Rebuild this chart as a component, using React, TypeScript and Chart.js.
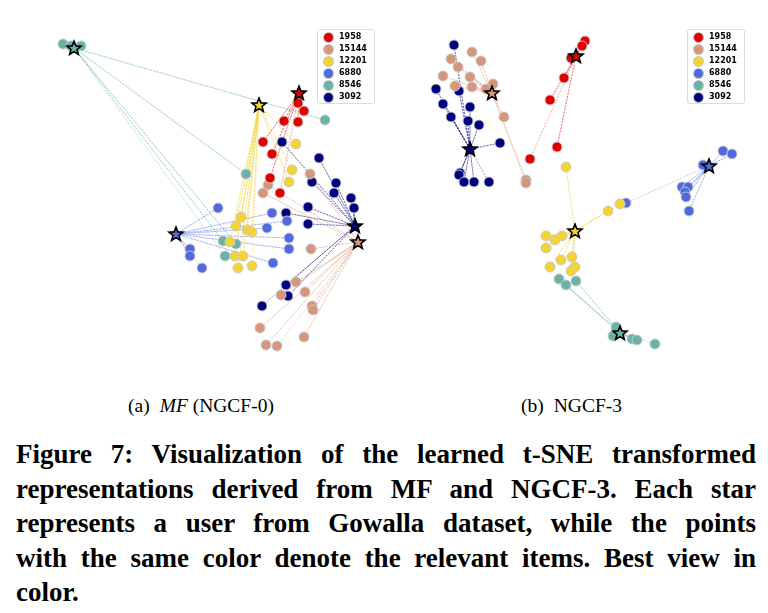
import React, { useEffect, useRef } from "react";
import { Chart, registerables } from "chart.js";
Chart.register(...registerables);

type Pt = [number, number];

const groupLabels = ["1958", "15144", "12201", "6880", "8546", "3092"];
const groupColors = ["#e00000", "#d6967b", "#f2d432", "#5069e0", "#68b2a8", "#000080"];
const lineColors = [
  "rgba(224,0,0,0.5)",
  "rgba(214,150,123,0.55)",
  "rgba(242,212,50,0.65)",
  "rgba(80,105,224,0.5)",
  "rgba(104,178,168,0.6)",
  "rgba(0,0,128,0.55)",
];

// ---------- Panel (a) MF (NGCF-0) ----------
const mfUsers: Pt[] = [
  [299, 93], [358, 242], [259, 105], [176, 234], [74, 48], [355, 226],
];
const mfItems1958: Pt[] = [
  [298, 103], [304, 111], [284, 121], [298, 122], [263, 142], [272, 154], [270, 178], [280, 193],
];
const mfItems15144: Pt[] = [
  [310, 174], [268, 185], [263, 193], [311, 249], [296, 282], [305, 292], [281, 295],
  [312, 306], [313, 310], [260, 328], [304, 337], [266, 345], [277, 346],
];
const mfItems12201: Pt[] = [
  [296, 144], [292, 170], [289, 182], [241, 217], [236, 226], [247, 230], [252, 232],
  [230, 242], [235, 256], [243, 256], [238, 268], [252, 266],
];
const mfItems6880: Pt[] = [
  [218, 208], [272, 213], [287, 221], [267, 228], [289, 238], [289, 249], [273, 263],
  [190, 249], [190, 256], [202, 268],
];
const mfItems8546: Pt[] = [
  [63, 44], [71, 46], [81, 46], [325, 120], [246, 174], [223, 241], [236, 244], [225, 256],
];
const mfItems3092: Pt[] = [
  [282, 142], [319, 158], [312, 182], [336, 183], [334, 193], [351, 198], [354, 208],
  [308, 207], [286, 213], [308, 224], [286, 285], [288, 296], [262, 306],
];

// ---------- Panel (b) NGCF-3 ----------
const ngcfUsers: Pt[] = [
  [192, 56], [108, 93], [191, 231], [325, 166], [236, 333], [86, 149],
];
const ngcfItems1958: Pt[] = [
  [201, 41], [198, 46], [187, 58], [180, 78], [166, 100], [173, 147], [146, 159],
];
const ngcfItems15144: Pt[] = [
  [88, 52], [97, 61], [67, 59], [74, 67], [59, 76], [86, 77], [71, 86], [88, 87],
  [102, 89], [109, 84], [120, 117], [142, 180], [142, 183],
];
const ngcfItems12201: Pt[] = [
  [182, 167], [236, 204], [224, 211], [162, 236], [171, 240], [178, 236], [162, 248],
  [177, 260], [188, 257], [166, 267], [187, 271], [191, 267],
];
const ngcfItems6880: Pt[] = [
  [339, 151], [348, 154], [319, 165], [298, 187], [304, 187], [301, 192], [302, 197],
  [305, 211], [242, 203],
];
const ngcfItems8546: Pt[] = [
  [175, 279], [182, 285], [192, 281], [232, 327], [229, 336], [248, 339], [253, 340], [271, 344],
];
const ngcfItems3092: Pt[] = [
  [70, 45], [52, 89], [59, 104], [67, 117], [75, 91], [86, 107], [84, 121], [95, 125],
  [116, 143], [76, 173], [75, 175], [80, 182], [90, 182], [105, 182],
];

const mfItems = [mfItems1958, mfItems15144, mfItems12201, mfItems6880, mfItems8546, mfItems3092];
const ngcfItems = [ngcfItems1958, ngcfItems15144, ngcfItems12201, ngcfItems6880, ngcfItems8546, ngcfItems3092];

const captionLines = [
  "Figure 7: Visualization of the learned t-SNE transformed",
  "representations derived from MF and NGCF-3. Each star",
  "represents a user from Gowalla dataset, while the points",
  "with the same color denote the relevant items. Best view in",
  "color.",
];

const CAPTION_FONT = "bold 27px 'Liberation Serif'";
const CAPTION_WIDTH = 740;

function captionScale(): number {
  const c = document.createElement("canvas");
  const ctx = c.getContext("2d")!;
  ctx.font = CAPTION_FONT;
  let maxW = 0;
  captionLines.forEach((t) => {
    maxW = Math.max(maxW, ctx.measureText(t).width);
  });
  return Math.min(1, CAPTION_WIDTH / (maxW + 2));
}

function makeStar(color: string): HTMLCanvasElement {
  const c = document.createElement("canvas");
  const s = 20;
  c.width = s;
  c.height = s;
  const ctx = c.getContext("2d")!;
  const cx = s / 2, cy = s / 2 + 0.5, ro = 7.4, ri = 3.2;
  ctx.beginPath();
  for (let i = 0; i < 10; i++) {
    const r = i % 2 === 0 ? ro : ri;
    const a = -Math.PI / 2 + (i * Math.PI) / 5;
    const x = cx + r * Math.cos(a), y = cy + r * Math.sin(a);
    if (i === 0) ctx.moveTo(x, y); else ctx.lineTo(x, y);
  }
  ctx.closePath();
  ctx.fillStyle = color;
  ctx.fill();
  ctx.lineWidth = 1.6;
  ctx.strokeStyle = "#000";
  ctx.lineJoin = "miter";
  ctx.stroke();
  return c;
}

function buildDatasets(users: Pt[], items: Pt[][]) {
  const ds: any[] = [];
  users.forEach((u, g) => {
    const lineData: any[] = [];
    items[g].forEach((p) => {
      lineData.push({ x: u[0], y: u[1] });
      lineData.push({ x: p[0], y: p[1] });
    });
    ds.push({
      label: groupLabels[g] + " links",
      data: lineData,
      showLine: true,
      borderColor: lineColors[g],
      borderWidth: 0.7,
      borderDash: [2, 1.2],
      pointRadius: 0,
      tension: 0,
      order: 3,
      clip: false,
    });
  });
  items.forEach((arr, g) => {
    ds.push({
      label: groupLabels[g],
      data: arr.map((p) => ({ x: p[0], y: p[1] })),
      backgroundColor: groupColors[g],
      borderColor: "rgba(200,200,200,0.95)",
      borderWidth: 1,
      pointRadius: 5,
      order: 2,
      clip: false,
    });
  });
  users.forEach((u, g) => {
    ds.push({
      label: groupLabels[g] + " user",
      data: [{ x: u[0], y: u[1] }],
      pointStyle: makeStar(groupColors[g]),
      pointRadius: 8,
      order: 1,
      clip: false,
    });
  });
  return ds;
}

function Panel({ users, items }: { users: Pt[]; items: Pt[][] }) {
  const ref = useRef<HTMLCanvasElement | null>(null);
  useEffect(() => {
    if (!ref.current) return;
    const chart = new Chart(ref.current, {
      type: "scatter",
      data: { datasets: buildDatasets(users, items) },
      options: {
        responsive: false,
        animation: false,
        devicePixelRatio: 1,
        layout: { padding: 0, autoPadding: false },
        plugins: { legend: { display: false }, tooltip: { enabled: false } },
        scales: {
          x: { type: "linear", min: 0, max: 384, display: false },
          y: { type: "linear", min: 0, max: 385, reverse: true, display: false },
        },
      } as any,
    });
    return () => chart.destroy();
  }, []);
  return <canvas ref={ref} width={384} height={385} style={{ display: "block" }} />;
}

function Legend({ left, top }: { left: number; top: number }) {
  return (
    <div
      style={{
        position: "absolute",
        left,
        top,
        width: 58,
        height: 75,
        border: "1px solid #dcdcdc",
        borderRadius: 3,
        background: "#fff",
        boxSizing: "border-box",
      }}
    >
      {groupLabels.map((l, i) => (
        <div
          key={l}
          style={{
            position: "absolute",
            left: 5,
            top: 1 + i * 12,
            height: 12,
            display: "flex",
            alignItems: "center",
          }}
        >
          <span
            style={{
              display: "inline-block",
              width: 11,
              height: 11,
              borderRadius: "50%",
              background: groupColors[i],
              border: "1px solid rgba(200,200,200,0.95)",
              boxSizing: "border-box",
            }}
          />
          <span
            style={{
              marginLeft: 5,
              font: "bold 8px 'DejaVu Sans'",
              color: "#000",
              lineHeight: "12px",
            }}
          >
            {l}
          </span>
        </div>
      ))}
    </div>
  );
}

export default function App() {
  const sx = captionScale();
  const subFont = "19.5px 'Liberation Serif'";
  return (
    <div
      style={{
        position: "absolute",
        left: 0,
        top: 0,
        width: 768,
        height: 613,
        background: "#fff",
        overflow: "hidden",
      }}
    >
      <div style={{ position: "absolute", left: 0, top: 0 }}>
        <Panel users={mfUsers} items={mfItems} />
      </div>
      <div style={{ position: "absolute", left: 384, top: 0 }}>
        <Panel users={ngcfUsers} items={ngcfItems} />
      </div>
      <Legend left={317} top={29} />
      <Legend left={687} top={29} />
      <div
        style={{
          position: "absolute",
          left: 128,
          top: 395,
          font: subFont,
          whiteSpace: "nowrap",
        }}
      >
        <span>(a)</span>
        <span style={{ marginLeft: 10 }}>
          <i>MF</i> (NGCF-0)
        </span>
      </div>
      <div
        style={{
          position: "absolute",
          left: 521,
          top: 395,
          font: subFont,
          whiteSpace: "nowrap",
        }}
      >
        <span>(b)</span>
        <span style={{ marginLeft: 10 }}>NGCF-3</span>
      </div>
      <div
        style={{
          position: "absolute",
          left: 16,
          top: 437,
          width: CAPTION_WIDTH / sx,
          transform: `scaleX(${sx})`,
          transformOrigin: "0 0",
        }}
      >
        {captionLines.map((t, i) => {
          const last = i === captionLines.length - 1;
          return (
            <div
              key={i}
              style={{
                font: CAPTION_FONT,
                lineHeight: "34.5px",
                height: 34.5,
                textAlign: last ? "left" : "justify",
                textAlignLast: last ? "left" : "justify",
                whiteSpace: "nowrap",
                color: "#000",
              }}
            >
              {t}
            </div>
          );
        })}
      </div>
    </div>
  );
}
